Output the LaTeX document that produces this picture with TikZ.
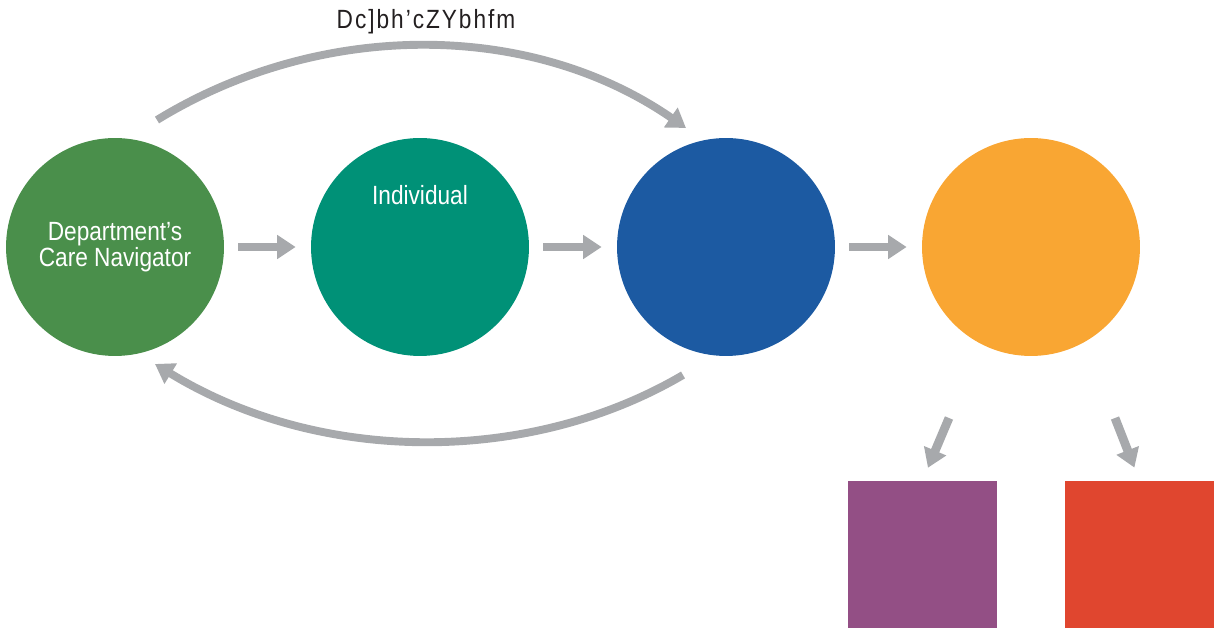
\documentclass[tikz,border=0pt]{standalone}
\usepackage{fontspec}
\setmainfont{Liberation Sans}[FakeStretch=0.86]
\usetikzlibrary{arrows.meta}
\definecolor{navgreen}{HTML}{4A8F4B}
\definecolor{indteal}{HTML}{009177}
\definecolor{midblue}{HTML}{1C5AA2}
\definecolor{sunorange}{HTML}{F9A633}
\definecolor{boxpurple}{HTML}{934F85}
\definecolor{boxred}{HTML}{E0462F}
\definecolor{arrowgray}{HTML}{A7A9AC}
\definecolor{labelgray}{HTML}{231F20}

\begin{document}
\begin{tikzpicture}[x=0.02cm,y=-0.02cm,
    stage/.style={circle,minimum size=4.36cm,inner sep=0pt,text=white,
      font=\fontsize{15}{14.5}\selectfont,align=center},
    outbox/.style={minimum width=2.98cm,minimum height=2.94cm,inner sep=0pt},
    flow/.style={draw=arrowgray,line width=4.5pt,
      -{Triangle[length=0.37cm,width=0.46cm]}}]
      \useasboundingbox (0,0) rectangle (1215,631);
      \node[stage,fill=navgreen] (navigator) at (115,247) {Department’s\\Care Navigator};
      \node[stage,fill=indteal,label={[text=white,font=\fontsize{15}{15}\selectfont,yshift=1.04cm]center:Individual}] (individual) at (420,247) {};
      \node[stage,fill=midblue] (provider) at (726,247) {};
      \node[stage,fill=sunorange] (outcome) at (1031,247) {};
      \node[outbox,fill=boxpurple] (leftbox) at (922.5,554.5) {};
      \node[outbox,fill=boxred] (rightbox) at (1139.5,554.5) {};
      \node[text=labelgray,font=\fontsize{15}{15}\selectfont\addfontfeature{LetterSpace=7.5}] (toplabel) at (426,22) {Dc]bh’cZYbhfm};
      \coordinate (topstart) at (157,120);
      \coordinate (topend) at (686,128);
      \coordinate (botstart) at (683,375);
      \coordinate (botend) at (155,364);
      \coordinate (leftstart) at (949,418);
      \coordinate (rightstart) at (1115,418);
      \draw[flow,shorten <=0.28cm,shorten >=0.3cm] (navigator) -- (individual);
      \draw[flow,shorten <=0.28cm,shorten >=0.3cm] (individual) -- (provider);
      \draw[flow,shorten <=0.28cm,shorten >=0.3cm] (provider) -- (outcome);
      \draw[flow] (topstart) .. controls (320,20) and (530,20) .. (topend);
      \draw[flow] (botstart) .. controls (530,465) and (320,465) .. (botend);
      \draw[flow,line width=5pt,shorten >=0.28cm] (leftstart) -- (leftbox.north);
      \draw[flow,line width=5pt,shorten >=0.28cm] (rightstart) -- (rightbox.north);
\end{tikzpicture}
\end{document}
